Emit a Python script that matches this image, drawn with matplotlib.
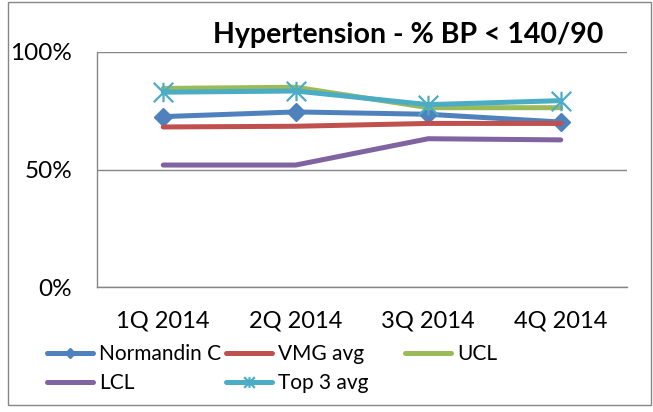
import matplotlib
matplotlib.use("Agg")
import matplotlib.pyplot as plt
import matplotlib.patches as mpatches
from matplotlib.path import Path
from matplotlib.ticker import PercentFormatter

plt.rcParams["font.family"] = ["Lato", "DejaVu Sans"]

QUARTERS = ["1Q 2014", "2Q 2014", "3Q 2014", "4Q 2014"]
NORMANDIN = [72.5, 74.5, 73.5, 70.2]
VMG_AVG = [68.1, 68.4, 69.6, 69.6]
UCL = [84.5, 85.0, 76.3, 76.3]
LCL = [51.9, 51.9, 63.1, 62.6]
TOP3 = [82.9, 83.4, 77.6, 79.3]

W, H = 653, 412
GRID = "#868686"

# excel style asterisk: X plus a vertical bar
STAR = Path([(0, -1), (0, 1), (-1, -1), (1, 1), (-1, 1), (1, -1)],
            [Path.MOVETO, Path.LINETO] * 3)

fig = plt.figure(figsize=(W / 100, H / 100), dpi=100)
ax = fig.add_axes([97 / W, (H - 287) / H, 530 / W, 235 / H])

x = range(len(QUARTERS))
kw = dict(lw=3.6, solid_capstyle="round")
l_norm, = ax.plot(x, NORMANDIN, color="#4F81BD", marker="D", ms=9.5, **kw)
l_vmg, = ax.plot(x, VMG_AVG, color="#C0504D", **kw)
l_ucl, = ax.plot(x, UCL, color="#9BBB59", **kw)
l_lcl, = ax.plot(x, LCL, color="#8064A2", **kw)
l_top, = ax.plot(x, TOP3, color="#4BACC6", marker=STAR, ms=14,
                 mfc="none", mec="#4BACC6", mew=1.6, **kw)

ax.set_xlim(-0.5, len(QUARTERS) - 0.5)
ax.set_ylim(0, 100)
ax.set_yticks([0, 50, 100])
ax.yaxis.set_major_formatter(PercentFormatter(decimals=0))
ax.set_xticks(list(x))
ax.set_xticklabels(QUARTERS)
ax.tick_params(axis="y", length=0, pad=18, labelsize=17.5)
ax.tick_params(axis="x", length=0, pad=17, labelsize=17)
ax.yaxis.grid(True, color=GRID, lw=1)
ax.set_axisbelow(True)
for s in ("top", "right"):
    ax.spines[s].set_visible(False)
for s in ("left", "bottom"):
    ax.spines[s].set_color(GRID)
    ax.spines[s].set_linewidth(1)

fig.text(408 / W, 1 - 43 / H, "Hypertension - % BP < 140/90", ha="center",
         va="baseline", fontsize=20.5, fontweight="bold")

# legend laid out in three fixed-width columns like excel
cols = [([l_norm, l_lcl], ["Normandin C", "LCL"], 47),
        ([l_vmg, l_top], ["VMG avg", "Top 3 avg"], 226),
        ([l_ucl], ["UCL"], 405)]
for handles, labels, x0 in cols:
    fig.legend(handles, labels, loc="upper left",
               bbox_to_anchor=(x0 / W, 1 - 344 / H), frameon=False,
               fontsize=15, handlelength=2.2, handletextpad=0.3,
               borderpad=0, borderaxespad=0, labelspacing=0.45,
               markerscale=0.55)

fig.patches.append(mpatches.Rectangle((8 / W, 1 - 405 / H), 643 / W, 403 / H,
                                      transform=fig.transFigure, fill=False,
                                      edgecolor=GRID, lw=1))

fig.savefig("out.png", dpi=100)
